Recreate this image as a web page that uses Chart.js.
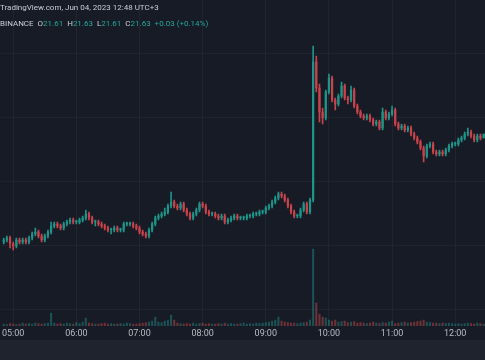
<!DOCTYPE html>
<html>
<head>
<meta charset="utf-8">
<script src="https://cdn.jsdelivr.net/npm/chart.js@4.4.0/dist/chart.umd.min.js"></script>
<style>
  html, body { margin: 0; padding: 0; background: #171b26; }
  body { width: 485px; height: 360px; position: relative; overflow: hidden; font-family: Roboto, "Liberation Sans", sans-serif; }
  #wrap { position: absolute; left: 0; top: 0; width: 485px; height: 340px; }
  .band { position: absolute; left: 0; top: 340px; width: 485px; height: 20px; background: #1f232e; }
  .head { position: absolute; left: 0; font-size: 8px; line-height: 10px; color: #c9ccd4; white-space: pre; }
  .g { color: #26a69a; }
</style>
</head>
<body>
<div id="wrap"><canvas id="chart" width="485" height="340"></canvas></div>
<div class="band"></div>
<div class="head" style="top:3px">TradingView.com, Jun 04, 2023 12:48 UTC+3</div>
<div class="head" style="top:19px">BINANCE  O<span class="g">21.61</span>  H<span class="g">21.63</span>  L<span class="g">21.61</span>  C<span class="g">21.63</span>  <span class="g">+0.03 (+0.14%)</span></div>
<script>
// 3-minute candles, first one at 04:51 (minutes after midnight)
const startMin = 291;
const stepMin = 3;
const firstOpen = 21.09;

const closes = [
  21.10, 21.11, 21.08, 21.07, 21.10, 21.09, 21.10, 21.09, 21.11, 21.13,
  21.14, 21.12, 21.10, 21.12, 21.14, 21.17, 21.18, 21.17, 21.16, 21.18,
  21.19, 21.20, 21.19, 21.19, 21.20, 21.21, 21.23, 21.21, 21.19, 21.19,
  21.18, 21.17, 21.16, 21.15, 21.15, 21.16, 21.15, 21.15, 21.18, 21.18,
  21.18, 21.17, 21.16, 21.14, 21.13, 21.12, 21.15, 21.18, 21.21, 21.22,
  21.23, 21.24, 21.27, 21.29, 21.27, 21.26, 21.28, 21.25, 21.23, 21.21,
  21.23, 21.25, 21.28, 21.27, 21.24, 21.23, 21.23, 21.22, 21.21, 21.22,
  21.19, 21.20, 21.21, 21.22, 21.21, 21.21, 21.21, 21.22, 21.22, 21.23,
  21.23, 21.24, 21.24, 21.26, 21.27, 21.29, 21.31, 21.33, 21.32, 21.30,
  21.27, 21.24, 21.22, 21.22, 21.25, 21.28, 21.24, 21.30, 21.99, 21.86,
  21.74, 21.71, 21.84, 21.91, 21.80, 21.78, 21.82, 21.87, 21.81, 21.80,
  21.85, 21.77, 21.74, 21.72, 21.71, 21.72, 21.70, 21.68, 21.69, 21.66,
  21.74, 21.71, 21.73, 21.75, 21.68, 21.66, 21.67, 21.65, 21.66, 21.63,
  21.61, 21.59, 21.56, 21.52, 21.57, 21.58, 21.54, 21.53, 21.54, 21.53,
  21.55, 21.57, 21.58, 21.58, 21.60, 21.61, 21.63, 21.64, 21.62, 21.60,
  21.62, 21.61, 21.63
];
const highs = [
  21.11, 21.12, 21.12, 21.09, 21.11, 21.11, 21.11, 21.11, 21.12, 21.14,
  21.16, 21.15, 21.13, 21.13, 21.15, 21.19, 21.19, 21.19, 21.18, 21.19,
  21.20, 21.21, 21.21, 21.20, 21.21, 21.22, 21.25, 21.24, 21.22, 21.20,
  21.20, 21.19, 21.18, 21.17, 21.16, 21.17, 21.17, 21.16, 21.19, 21.19,
  21.19, 21.19, 21.18, 21.17, 21.15, 21.14, 21.16, 21.19, 21.22, 21.23,
  21.24, 21.26, 21.28, 21.34, 21.30, 21.28, 21.29, 21.29, 21.26, 21.24,
  21.24, 21.26, 21.29, 21.29, 21.28, 21.25, 21.24, 21.24, 21.23, 21.23,
  21.23, 21.21, 21.22, 21.23, 21.23, 21.22, 21.22, 21.23, 21.23, 21.24,
  21.24, 21.25, 21.25, 21.27, 21.28, 21.30, 21.32, 21.34, 21.34, 21.33,
  21.31, 21.28, 21.25, 21.23, 21.26, 21.29, 21.29, 21.31, 22.07, 22.02,
  21.88, 21.76, 21.85, 21.93, 21.92, 21.81, 21.83, 21.89, 21.88, 21.82,
  21.87, 21.86, 21.78, 21.75, 21.73, 21.73, 21.73, 21.71, 21.70, 21.70,
  21.76, 21.75, 21.74, 21.77, 21.76, 21.69, 21.68, 21.68, 21.67, 21.67,
  21.64, 21.62, 21.60, 21.57, 21.58, 21.59, 21.59, 21.55, 21.55, 21.55,
  21.56, 21.58, 21.59, 21.59, 21.61, 21.62, 21.64, 21.66, 21.65, 21.63,
  21.63, 21.63, 21.63
];
const lows = [
  21.08, 21.09, 21.06, 21.05, 21.06, 21.08, 21.08, 21.08, 21.08, 21.10,
  21.12, 21.11, 21.09, 21.09, 21.11, 21.13, 21.16, 21.16, 21.15, 21.15,
  21.17, 21.18, 21.18, 21.18, 21.18, 21.19, 21.20, 21.20, 21.18, 21.17,
  21.17, 21.16, 21.15, 21.14, 21.13, 21.14, 21.14, 21.14, 21.14, 21.17,
  21.17, 21.16, 21.15, 21.13, 21.12, 21.11, 21.11, 21.14, 21.17, 21.20,
  21.21, 21.22, 21.23, 21.26, 21.26, 21.25, 21.25, 21.24, 21.22, 21.20,
  21.20, 21.22, 21.24, 21.26, 21.23, 21.22, 21.22, 21.21, 21.20, 21.20,
  21.18, 21.18, 21.19, 21.20, 21.20, 21.20, 21.20, 21.20, 21.21, 21.21,
  21.22, 21.22, 21.23, 21.23, 21.25, 21.26, 21.28, 21.30, 21.31, 21.29,
  21.26, 21.23, 21.21, 21.21, 21.21, 21.24, 21.23, 21.23, 21.29, 21.84,
  21.69, 21.68, 21.70, 21.83, 21.79, 21.75, 21.77, 21.81, 21.80, 21.78,
  21.79, 21.76, 21.73, 21.71, 21.70, 21.70, 21.69, 21.67, 21.67, 21.65,
  21.65, 21.70, 21.70, 21.72, 21.67, 21.65, 21.65, 21.64, 21.64, 21.62,
  21.60, 21.58, 21.55, 21.49, 21.51, 21.56, 21.53, 21.52, 21.52, 21.52,
  21.52, 21.54, 21.56, 21.57, 21.57, 21.59, 21.60, 21.62, 21.61, 21.59,
  21.59, 21.60, 21.61
];
// volume in thousands
const volumes = [
  20, 15, 25, 20, 15, 20, 30, 20, 25, 20, 30, 25, 20, 25, 30, 130, 30, 20, 25, 20,
  30, 25, 20, 35, 25, 40, 80, 30, 25, 20, 20, 25, 30, 20, 25, 20, 20, 25, 20, 30,
  25, 20, 20, 25, 30, 35, 40, 50, 90, 40, 35, 50, 60, 110, 60, 30, 25, 20, 25, 20,
  30, 20, 25, 30, 20, 25, 20, 20, 25, 20, 30, 20, 25, 20, 20, 25, 30, 20, 25, 20,
  30, 25, 30, 35, 40, 50, 60, 90, 50, 40, 35, 30, 30, 25, 30, 35, 40, 60, 770, 230,
  120, 90, 80, 60, 50, 60, 40, 45, 50, 35, 40, 45, 30, 35, 30, 25, 30, 40, 30, 25,
  35, 30, 40, 50, 25, 30, 35, 40, 30, 35, 40, 45, 50, 60, 40, 35, 30, 30, 25, 30,
  25, 30, 25, 20, 25, 20, 25, 30, 25, 20, 30, 25, 20
];
const hourTicks = [300, 360, 420, 480, 540, 600, 660, 720];
const priceGrid = [22.035, 21.715, 21.395, 21.075, 20.755];

const UP = '#1f9488';
const DOWN = '#c9434b';

const opens = closes.map((c, i) => i === 0 ? firstOpen : closes[i - 1]);
const times = closes.map((c, i) => startMin + i * stepMin);
const isUp = closes.map((c, i) => c >= opens[i]);

function hhmm(v) {
  const h = Math.floor(v / 60), m = Math.round(v % 60);
  return String(h).padStart(2, '0') + ':' + String(m).padStart(2, '0');
}

new Chart(document.getElementById('chart').getContext('2d'), {
  type: 'bar',
  data: {
    datasets: [
      {
        label: 'wick',
        data: times.map((t, i) => ({ x: t, y: [lows[i], highs[i]] })),
        backgroundColor: isUp.map(u => u ? UP : DOWN),
        barThickness: 1,
        grouped: false,
        order: 2
      },
      {
        label: 'body',
        data: times.map((t, i) => ({ x: t, y: [opens[i], closes[i]] })),
        backgroundColor: isUp.map(u => u ? UP : DOWN),
        barThickness: 1.6,
        minBarLength: 1,
        grouped: false,
        order: 1
      },
      {
        label: 'volume',
        data: times.map((t, i) => ({ x: t, y: volumes[i] })),
        backgroundColor: isUp.map(u => u ? 'rgba(38,166,154,0.4)' : 'rgba(239,83,80,0.4)'),
        barThickness: 1.4,
        grouped: false,
        yAxisID: 'vol',
        order: 3
      }
    ]
  },
  options: {
    animation: false,
    responsive: false,
    devicePixelRatio: 1,
    layout: { padding: 0 },
    plugins: { legend: { display: false }, tooltip: { enabled: false } },
    scales: {
      x: {
        type: 'linear',
        min: 288.6,
        max: 748.3,
        offset: false,
        afterBuildTicks: s => { s.ticks = hourTicks.map(v => ({ value: v })); },
        afterFit: s => { s.height = 14; },
        ticks: {
          callback: v => hhmm(v),
          color: '#b8bbc3',
          font: { size: 9, family: 'Roboto' },
          maxRotation: 0,
          autoSkip: false,
          padding: 2
        },
        grid: { color: 'rgba(42,46,57,0.55)', drawTicks: false, offset: false },
        border: { display: false }
      },
      y: {
        min: 20.67,
        max: 22.30,
        afterBuildTicks: s => { s.ticks = priceGrid.map(v => ({ value: v })); },
        afterFit: s => { s.width = 0; },
        ticks: { display: false },
        grid: { color: 'rgba(42,46,57,0.45)', drawTicks: false },
        border: { display: false }
      },
      vol: {
        display: false,
        min: 0,
        max: 3260
      }
    }
  }
});
</script>
</body>
</html>
